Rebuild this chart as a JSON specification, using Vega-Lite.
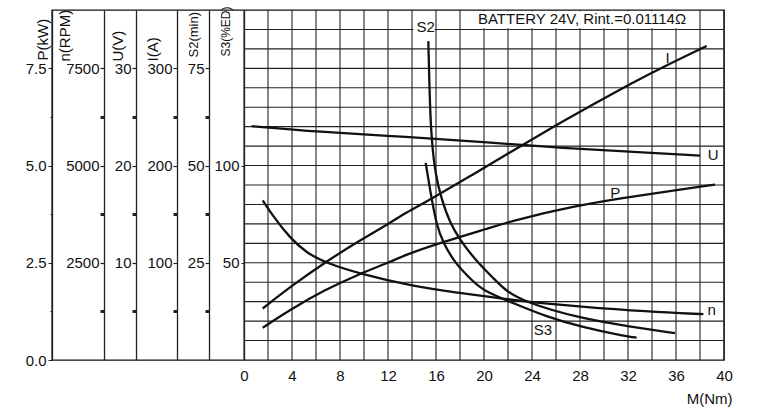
{
  "$schema": "https://vega.github.io/schema/vega-lite/v6.json",
  "width": 672,
  "height": 350,
  "autosize": {"type": "none"},
  "padding": {"left": 52, "top": 10, "right": 41, "bottom": 50},
  "background": "white",
  "config": {
    "view": {"stroke": "#111", "strokeWidth": 1.4},
    "axis": {
      "labelFont": "Liberation Sans", "titleFont": "Liberation Sans",
      "labelFontSize": 15, "titleFontSize": 15, "titleFontWeight": "normal",
      "labelColor": "#111", "titleColor": "#111",
      "domainColor": "#222", "domainWidth": 1.3, "tickColor": "#222",
      "grid": false, "labelFlush": false, "labelOverlap": false
    },
    "text": {"font": "Liberation Sans"}
  },
  "datasets": {
    "gridv": [{"M":0},{"M":2},{"M":4},{"M":6},{"M":8},{"M":10},{"M":12},{"M":14},{"M":16},{"M":18},{"M":20},{"M":22},{"M":24},{"M":26},{"M":28},{"M":30},{"M":32},{"M":34},{"M":36},{"M":38},{"M":40}],
    "gridh": [{"P":0.5},{"P":1},{"P":1.5},{"P":2},{"P":2.5},{"P":3},{"P":3.5},{"P":4},{"P":4.5},{"P":5},{"P":5.5},{"P":6},{"P":6.5},{"P":7},{"P":7.5},{"P":8},{"P":8.5}],
    "curves": [
      {"c":"P","M":1.56,"v":0.83},{"c":"P","M":3.83,"v":1.29},{"c":"P","M":6.7,"v":1.8},{"c":"P","M":9.67,"v":2.22},{"c":"P","M":12.17,"v":2.52},{"c":"P","M":13.42,"v":2.7},{"c":"P","M":16.33,"v":3.01},{"c":"P","M":20.5,"v":3.4},{"c":"P","M":22.58,"v":3.6},{"c":"P","M":27.44,"v":3.95},{"c":"P","M":31.6,"v":4.17},{"c":"P","M":35.5,"v":4.34},{"c":"P","M":39.25,"v":4.51},
      {"c":"n","M":1.56,"v":4105},{"c":"n","M":2.44,"v":3690},{"c":"n","M":3.83,"v":3140},{"c":"n","M":5.22,"v":2750},{"c":"n","M":6.89,"v":2490},{"c":"n","M":9.67,"v":2216},{"c":"n","M":14.11,"v":1890},{"c":"n","M":18.0,"v":1720},{"c":"n","M":19.67,"v":1660},{"c":"n","M":23.28,"v":1503},{"c":"n","M":28.0,"v":1374},{"c":"n","M":33.56,"v":1245},{"c":"n","M":38.28,"v":1178},
      {"c":"U","M":0.64,"v":24.05},{"c":"U","M":6.06,"v":23.47},{"c":"U","M":13.56,"v":22.96},{"c":"U","M":20.5,"v":22.37},{"c":"U","M":26.06,"v":21.83},{"c":"U","M":31.6,"v":21.47},{"c":"U","M":38.0,"v":21.03},
      {"c":"I","M":1.56,"v":53},{"c":"I","M":3.83,"v":75},{"c":"I","M":6.8,"v":101},{"c":"I","M":9.67,"v":123},{"c":"I","M":12.17,"v":141},{"c":"I","M":13.42,"v":151},{"c":"I","M":15.5,"v":165},{"c":"I","M":19.1,"v":191},{"c":"I","M":22.58,"v":216.5},{"c":"I","M":26.06,"v":242},{"c":"I","M":28.83,"v":261},{"c":"I","M":32.17,"v":284},{"c":"I","M":35.5,"v":305},{"c":"I","M":38.56,"v":323},
      {"c":"S2","M":15.36,"v":82},{"c":"S2","M":15.5,"v":64.4},{"c":"S2","M":15.64,"v":56.7},{"c":"S2","M":15.92,"v":48.1},{"c":"S2","M":16.47,"v":41.2},{"c":"S2","M":17.17,"v":35.2},{"c":"S2","M":18.0,"v":30.9},{"c":"S2","M":19.25,"v":25.8},{"c":"S2","M":20.92,"v":20.6},{"c":"S2","M":21.75,"v":18.0},{"c":"S2","M":23.28,"v":15.0},{"c":"S2","M":28.0,"v":10.7},{"c":"S2","M":32.17,"v":8.6},{"c":"S2","M":35.92,"v":6.9},
      {"c":"S3","M":15.14,"v":101.4},{"c":"S3","M":15.5,"v":87.6},{"c":"S3","M":16.06,"v":68.7},{"c":"S3","M":16.61,"v":60.2},{"c":"S3","M":17.58,"v":49.8},{"c":"S3","M":18.97,"v":41.2},{"c":"S3","M":19.81,"v":36.1},{"c":"S3","M":22.44,"v":29.2},{"c":"S3","M":25.22,"v":22.3},{"c":"S3","M":28.0,"v":17.2},{"c":"S3","M":31.9,"v":12.0},{"c":"S3","M":32.72,"v":11.5}
    ],
    "labels": [
      {"t":"BATTERY 24V, Rint.=0.01114Ω","M":28.17,"P":8.78},
      {"t":"S2","M":15.13,"P":8.57},
      {"t":"I","M":35.3,"P":7.77},
      {"t":"U","M":39.1,"P":5.26},
      {"t":"P","M":30.94,"P":4.3},
      {"t":"n","M":38.97,"P":1.29},
      {"t":"S3","M":24.9,"P":0.77}
    ]
  },
  "layer": [
    {
      "data": {"name": "gridv"},
      "mark": {"type": "rule", "color": "#222", "strokeWidth": 1.1},
      "encoding": {
        "x": {"field": "M", "type": "quantitative", "scale": {"domain": [-16, 40], "nice": false, "zero": false},
              "axis": {"title": "M(Nm)", "values": [0,4,8,12,16,20,24,28,32,36,40], "format": "d", "ticks": false, "domain": false, "labelPadding": 8, "titleX": 680, "titleY": 38, "titleAlign": "right", "titleBaseline": "middle"}},
        "y": {"datum": 0, "type": "quantitative", "scale": {"domain": [0, 9], "nice": false, "zero": false}, "axis": null},
        "y2": {"datum": 9}
      }
    },
    {
      "data": {"name": "gridh"},
      "mark": {"type": "rule", "color": "#222", "strokeWidth": 1.1},
      "encoding": {
        "x": {"datum": 0, "type": "quantitative", "scale": {"domain": [-16, 40], "nice": false, "zero": false},
              "axis": {"title": "M(Nm)", "values": [0,4,8,12,16,20,24,28,32,36,40], "format": "d", "ticks": false, "domain": false, "labelPadding": 8, "titleX": 680, "titleY": 38, "titleAlign": "right", "titleBaseline": "middle"}},
        "x2": {"datum": 40},
        "y": {"field": "P", "type": "quantitative", "scale": {"domain": [0, 9], "nice": false, "zero": false}, "axis": null}
      }
    },
    {
      "data": {"values": [{"k": "box"}]},
      "mark": {"type": "rect", "fill": "white", "stroke": null},
      "encoding": {
        "x": {"datum": 18.12, "type": "quantitative", "scale": {"domain": [-16, 40], "nice": false, "zero": false},
              "axis": {"title": "M(Nm)", "values": [0,4,8,12,16,20,24,28,32,36,40], "format": "d", "ticks": false, "domain": false, "labelPadding": 8, "titleX": 680, "titleY": 38, "titleAlign": "right", "titleBaseline": "middle"}},
        "x2": {"datum": 37.88},
        "y": {"datum": 8.53, "type": "quantitative", "scale": {"domain": [0, 9], "nice": false, "zero": false}, "axis": null},
        "y2": {"datum": 8.97}
      }
    },
    {
      "data": {"values": [{"k": "box"}]},
      "mark": {"type": "rect", "fill": "white", "stroke": null},
      "encoding": {
        "x": {"datum": 14.12, "type": "quantitative", "scale": {"domain": [-16, 40], "nice": false, "zero": false},
              "axis": {"title": "M(Nm)", "values": [0,4,8,12,16,20,24,28,32,36,40], "format": "d", "ticks": false, "domain": false, "labelPadding": 8, "titleX": 680, "titleY": 38, "titleAlign": "right", "titleBaseline": "middle"}},
        "x2": {"datum": 15.88},
        "y": {"datum": 8.38, "type": "quantitative", "scale": {"domain": [0, 9], "nice": false, "zero": false}, "axis": null},
        "y2": {"datum": 8.97}
      }
    },
    {
      "data": {"name": "curves"},
      "transform": [{"filter": "datum.c == 'P'"}],
      "mark": {"type": "line", "color": "#111", "strokeWidth": 2.3, "interpolate": "basis"},
      "encoding": {
        "x": {"field": "M", "type": "quantitative", "scale": {"domain": [-16, 40], "nice": false, "zero": false},
              "axis": {"title": "M(Nm)", "values": [0,4,8,12,16,20,24,28,32,36,40], "format": "d", "ticks": false, "domain": false, "labelPadding": 8, "titleX": 680, "titleY": 38, "titleAlign": "right", "titleBaseline": "middle"}},
        "y": {"field": "v", "type": "quantitative", "scale": {"domain": [0, 9], "nice": false, "zero": false},
              "axis": {"orient": "left", "offset": 0, "title": "P(kW)", "values": [0,1.25,2.5,3.75,5,6.25,7.5],
                       "labelExpr": "datum.value % 2.5 == 0 ? format(datum.value, '.1f') : ''",
                       "tickSize": {"condition": {"test": "datum.value % 2.5 != 0", "value": 2}, "value": 4},
                       "labelPadding": 2, "titleX": -10, "titleY": 50, "titleAngle": 270, "titleAlign": "left", "titleBaseline": "middle"}}
      }
    },
    {
      "data": {"name": "curves"},
      "transform": [{"filter": "datum.c == 'n'"}],
      "mark": {"type": "line", "color": "#111", "strokeWidth": 2.3, "interpolate": "basis"},
      "encoding": {
        "x": {"field": "M", "type": "quantitative", "scale": {"domain": [-16, 40], "nice": false, "zero": false},
              "axis": {"title": "M(Nm)", "values": [0,4,8,12,16,20,24,28,32,36,40], "format": "d", "ticks": false, "domain": false, "labelPadding": 8, "titleX": 680, "titleY": 38, "titleAlign": "right", "titleBaseline": "middle"}},
        "y": {"field": "v", "type": "quantitative", "scale": {"domain": [0, 9000], "nice": false, "zero": false},
              "axis": {"orient": "left", "offset": -52, "title": "n(RPM)", "values": [1250,2500,3750,5000,6250,7500],
                       "labelExpr": "datum.value % 2500 == 0 ? '' + datum.value : ''",
                       "tickWidth": {"condition": {"test": "datum.value % 2500 != 0", "value": 3}, "value": 1.2},
                       "tickSize": 4, "labelPadding": 1, "titleX": -39.5, "titleY": 51, "titleAngle": 270, "titleAlign": "left", "titleBaseline": "middle"}}
      }
    },
    {
      "data": {"name": "curves"},
      "transform": [{"filter": "datum.c == 'U'"}],
      "mark": {"type": "line", "color": "#111", "strokeWidth": 2.3, "interpolate": "basis"},
      "encoding": {
        "x": {"field": "M", "type": "quantitative", "scale": {"domain": [-16, 40], "nice": false, "zero": false},
              "axis": {"title": "M(Nm)", "values": [0,4,8,12,16,20,24,28,32,36,40], "format": "d", "ticks": false, "domain": false, "labelPadding": 8, "titleX": 680, "titleY": 38, "titleAlign": "right", "titleBaseline": "middle"}},
        "y": {"field": "v", "type": "quantitative", "scale": {"domain": [0, 36], "nice": false, "zero": false},
              "axis": {"orient": "left", "offset": -84, "title": "U(V)", "values": [5,10,15,20,25,30],
                       "labelExpr": "datum.value % 10 == 0 ? '' + datum.value : ''",
                       "tickWidth": {"condition": {"test": "datum.value % 10 != 0", "value": 3}, "value": 1.2},
                       "tickSize": 4, "labelPadding": 1, "titleX": -19, "titleY": 51, "titleAngle": 270, "titleAlign": "left", "titleBaseline": "middle"}}
      }
    },
    {
      "data": {"name": "curves"},
      "transform": [{"filter": "datum.c == 'I'"}],
      "mark": {"type": "line", "color": "#111", "strokeWidth": 2.3, "interpolate": "basis"},
      "encoding": {
        "x": {"field": "M", "type": "quantitative", "scale": {"domain": [-16, 40], "nice": false, "zero": false},
              "axis": {"title": "M(Nm)", "values": [0,4,8,12,16,20,24,28,32,36,40], "format": "d", "ticks": false, "domain": false, "labelPadding": 8, "titleX": 680, "titleY": 38, "titleAlign": "right", "titleBaseline": "middle"}},
        "y": {"field": "v", "type": "quantitative", "scale": {"domain": [0, 360], "nice": false, "zero": false},
              "axis": {"orient": "left", "offset": -125, "title": "I(A)", "values": [50,100,150,200,250,300],
                       "labelExpr": "datum.value % 100 == 0 ? '' + datum.value : ''",
                       "tickWidth": {"condition": {"test": "datum.value % 100 != 0", "value": 3}, "value": 1.2},
                       "tickSize": 4, "labelPadding": 1, "titleX": -24.5, "titleY": 51, "titleAngle": 270, "titleAlign": "left", "titleBaseline": "middle"}}
      }
    },
    {
      "data": {"name": "curves"},
      "transform": [{"filter": "datum.c == 'S2'"}],
      "mark": {"type": "line", "color": "#111", "strokeWidth": 2.3, "interpolate": "basis"},
      "encoding": {
        "x": {"field": "M", "type": "quantitative", "scale": {"domain": [-16, 40], "nice": false, "zero": false},
              "axis": {"title": "M(Nm)", "values": [0,4,8,12,16,20,24,28,32,36,40], "format": "d", "ticks": false, "domain": false, "labelPadding": 8, "titleX": 680, "titleY": 38, "titleAlign": "right", "titleBaseline": "middle"}},
        "y": {"field": "v", "type": "quantitative", "scale": {"domain": [0, 90], "nice": false, "zero": false},
              "axis": {"orient": "left", "offset": -157, "title": "S2(min)", "values": [12.5,25,37.5,50,62.5,75],
                       "labelExpr": "datum.value % 25 == 0 ? '' + datum.value : ''",
                       "tickWidth": {"condition": {"test": "datum.value % 25 != 0", "value": 3}, "value": 1.2},
                       "tickSize": 4, "labelPadding": 1, "titleFontSize": 13, "titleX": -15.5, "titleY": 47, "titleAngle": 270, "titleAlign": "left", "titleBaseline": "middle"}}
      }
    },
    {
      "data": {"name": "curves"},
      "transform": [{"filter": "datum.c == 'S3'"}],
      "mark": {"type": "line", "color": "#111", "strokeWidth": 2.3, "interpolate": "basis"},
      "encoding": {
        "x": {"field": "M", "type": "quantitative", "scale": {"domain": [-16, 40], "nice": false, "zero": false},
              "axis": {"title": "M(Nm)", "values": [0,4,8,12,16,20,24,28,32,36,40], "format": "d", "ticks": false, "domain": false, "labelPadding": 8, "titleX": 680, "titleY": 38, "titleAlign": "right", "titleBaseline": "middle"}},
        "y": {"field": "v", "type": "quantitative", "scale": {"domain": [0, 180], "nice": false, "zero": false},
              "axis": {"orient": "left", "offset": -192, "title": "S3(%ED)", "values": [50,100],
                       "tickSize": 3, "labelPadding": 2, "titleFontSize": 12, "titleX": -18.5, "titleY": 46, "titleAngle": 270, "titleAlign": "left", "titleBaseline": "middle"}}
      }
    },
    {
      "data": {"name": "labels"},
      "mark": {"type": "text", "fontSize": 15, "color": "#111", "align": "center", "baseline": "middle"},
      "encoding": {
        "x": {"field": "M", "type": "quantitative", "scale": {"domain": [-16, 40], "nice": false, "zero": false},
              "axis": {"title": "M(Nm)", "values": [0,4,8,12,16,20,24,28,32,36,40], "format": "d", "ticks": false, "domain": false, "labelPadding": 8, "titleX": 680, "titleY": 38, "titleAlign": "right", "titleBaseline": "middle"}},
        "y": {"field": "P", "type": "quantitative", "scale": {"domain": [0, 9], "nice": false, "zero": false}, "axis": null},
        "text": {"field": "t", "type": "nominal"}
      }
    }
  ],
  "resolve": {"scale": {"y": "independent"}, "axis": {"y": "independent"}}
}
